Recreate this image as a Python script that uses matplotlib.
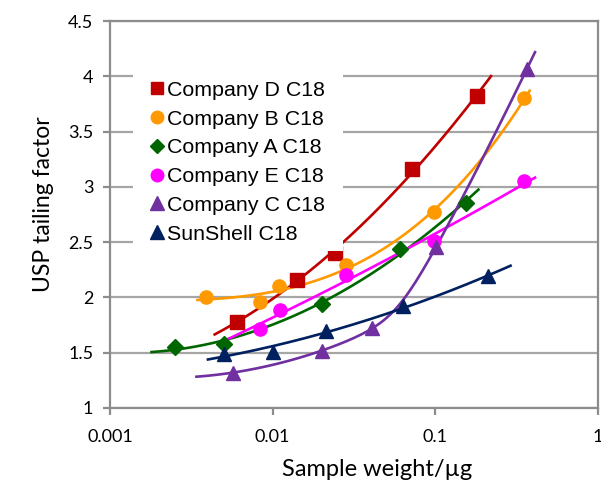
import numpy as np
import matplotlib.pyplot as plt
from matplotlib.lines import Line2D
from matplotlib.patches import Rectangle
from matplotlib.ticker import FixedLocator, FixedFormatter, NullLocator

# data (sample weight in ug, USP tailing factor)
series = ['Company D C18', 'Company B C18', 'Company A C18',
          'Company E C18', 'Company C C18', 'SunShell C18']

d_x = [0.0060, 0.0141, 0.0243, 0.0719, 0.180]
d_y = [1.78, 2.16, 2.40, 3.16, 3.82]
b_x = [0.0039, 0.0083, 0.0110, 0.0282, 0.0986, 0.353]
b_y = [2.00, 1.96, 2.10, 2.29, 2.77, 3.80]
a_x = [0.0025, 0.0050, 0.0201, 0.0609, 0.1545]
a_y = [1.55, 1.58, 1.94, 2.44, 2.85]
e_x = [0.0083, 0.0111, 0.0282, 0.0986, 0.353]
e_y = [1.71, 1.89, 2.20, 2.51, 3.05]
c_x = [0.0057, 0.0201, 0.0408, 0.1014, 0.3665]
c_y = [1.32, 1.52, 1.72, 2.46, 4.07]
s_x = [0.0050, 0.0100, 0.0212, 0.0637, 0.2104]
s_y = [1.49, 1.51, 1.70, 1.92, 2.19]

# trendline extent and model: polynomial degree in log10 x, or 'hinge'
trend_range = [(0.0044, 0.22), (0.00345, 0.38), (0.0018, 0.184),
               (0.0053, 0.41), (0.0034, 0.41), (0.0040, 0.29)]
trend_deg = [2, 3, 2, 2, 'hinge', 2]

xs = [d_x, b_x, a_x, e_x, c_x, s_x]
ys = [d_y, b_y, a_y, e_y, c_y, s_y]
colors = ['#C00000', '#FF9900', '#006600', '#FF00FF', '#7030A0', '#002060']
markers = ['s', 'o', 'D', 'o', '^', '^']
msizes = [9.5, 9.5, 8, 9.5, 10, 10]


def hinge_trend(L, y, t, w=0.08):
    # gentle quadratic (in log x) plus a smooth bend into a steep rise, least squares
    def basis(u, L0):
        return np.column_stack([np.ones_like(u), u, u ** 2,
                                w * np.logaddexp(0, (u - L0) / w)])
    best = None
    for L0 in np.linspace(L.min(), L.max(), 300):
        A = basis(L, L0)
        coef = np.linalg.lstsq(A, y, rcond=None)[0]
        r = np.sum((A @ coef - y) ** 2)
        if best is None or r < best[0] - 1e-9:
            best = (r, L0, coef)
    _, L0, coef = best
    return basis(t, L0) @ coef


fig = plt.figure(figsize=(6.01, 4.93), dpi=100)
ax = fig.add_axes([110/601, 1-408/493, 488/601, 387/493])

ax.set_xscale('log')
ax.set_xlim(0.001, 1)
ax.set_ylim(1, 4.5)

for i in range(len(series)):
    lx = np.log10(xs[i])
    t = np.linspace(np.log10(trend_range[i][0]), np.log10(trend_range[i][1]), 300)
    if trend_deg[i] == 'hinge':
        yy = hinge_trend(lx, np.array(ys[i]), t)
    else:
        yy = np.polyval(np.polyfit(lx, ys[i], trend_deg[i]), t)
    ax.plot(10**t, yy, color=colors[i], lw=1.9, zorder=2)
for i in range(len(series)):
    ax.plot(xs[i], ys[i], ls='none', marker=markers[i], ms=msizes[i],
            color=colors[i], mec=colors[i], zorder=3)

# axes styling (Excel look)
grey = '#8C8C8C'
ax.yaxis.grid(True, color='#A6A6A6', lw=1.6, zorder=0)
ax.set_axisbelow(True)
for sp in ax.spines.values():
    sp.set_color(grey)
    sp.set_linewidth(1.6)

ax.xaxis.set_major_locator(FixedLocator([0.001, 0.01, 0.1, 1]))
ax.xaxis.set_major_formatter(FixedFormatter(['0.001', '0.01', '0.1', '1']))
ax.xaxis.set_minor_locator(NullLocator())
yt = [1, 1.5, 2, 2.5, 3, 3.5, 4, 4.5]
ax.set_yticks(yt)
ax.set_yticklabels(['1', '1.5', '2', '2.5', '3', '3.5', '4', '4.5'])
ax.tick_params(axis='both', color=grey, width=1.6, length=5,
               labelsize=13, labelcolor='black')
ax.tick_params(axis='y', pad=7)
ax.tick_params(axis='x', pad=10)
for lab in ax.get_xticklabels() + ax.get_yticklabels():
    lab.set_family(['Lato', 'DejaVu Sans'])

fig.text(377/601, 1-470/493, 'Sample weight/\u00b5g', ha='center', va='center',
         fontsize=17, family=['Lato', 'DejaVu Sans'])
fig.text(44/601, 1-204/493, 'USP tailing factor', ha='center', va='center',
         rotation=90, fontsize=16.5, family=['Lato', 'DejaVu Sans'])

# white legend area
ax.add_patch(Rectangle((0.047, 0.406), 0.43, 0.462, transform=ax.transAxes,
                       facecolor='white', edgecolor='none', zorder=4))
handles = [Line2D([], [], ls='none', marker=markers[i], ms=msizes[i] * 0.95,
                  color=colors[i]) for i in range(len(series))]
leg = ax.legend(handles, series, loc='upper left', bbox_to_anchor=(0.0835, 0.845),
                frameon=False, borderpad=0, borderaxespad=0, handlelength=0.6,
                handletextpad=0.18, labelspacing=0.455,
                prop={'family': 'Liberation Sans', 'size': 15.4})
leg.set_zorder(5)

fig.savefig('out.png', dpi=100)
